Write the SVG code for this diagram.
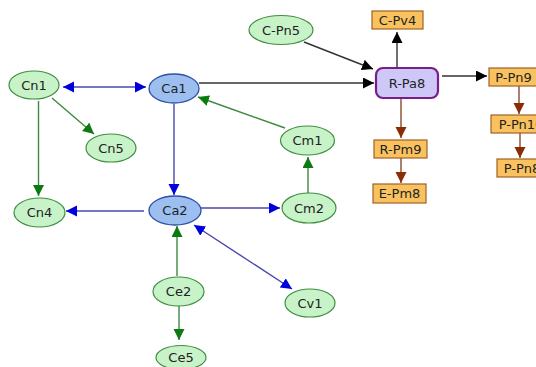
<svg xmlns="http://www.w3.org/2000/svg" width="536" height="367" viewBox="0 0 536 367">
  <style>
    .bg { fill: #ffffff; }
    .ell { fill: #c8f2c8; stroke: #3f8f3f; stroke-width: 1.2; }
    .ca { fill: #9cbff0; stroke: #2f4fa8; stroke-width: 1.3; }
    .box { fill: #f9c25e; stroke: #a0602a; stroke-width: 1.2; }
    .hub { fill: #cdc8f8; stroke: #7a1d86; stroke-width: 2.2; }
    text { font-family: "DejaVu Sans", "Liberation Sans", sans-serif; font-size: 13px; fill: #222222; text-anchor: middle; dominant-baseline: central; }
    .e { fill: none; stroke-width: 1.4; }
    .g { stroke: #3d8a3d; marker-end: url(#ag); }
    .b { stroke: #4848b0; marker-end: url(#ab); }
    .bb { stroke: #4848b0; marker-end: url(#ab); marker-start: url(#ab); }
    .k { stroke: #333333; marker-end: url(#ak); }
    .r { stroke: #8a4a2a; marker-end: url(#ar); }
  </style>
  <defs>
    <marker id="ag" markerUnits="userSpaceOnUse" markerWidth="12" markerHeight="12" refX="11" refY="5.5" orient="auto-start-reverse">
      <path d="M0,0 L11,5.5 L0,11 z" fill="#0b7a10"/>
    </marker>
    <marker id="ab" markerUnits="userSpaceOnUse" markerWidth="12" markerHeight="12" refX="11" refY="5.5" orient="auto-start-reverse">
      <path d="M0,0 L11,5.5 L0,11 z" fill="#0000dd"/>
    </marker>
    <marker id="ak" markerUnits="userSpaceOnUse" markerWidth="12" markerHeight="12" refX="11" refY="5.5" orient="auto-start-reverse">
      <path d="M0,0 L11,5.5 L0,11 z" fill="#000000"/>
    </marker>
    <marker id="ar" markerUnits="userSpaceOnUse" markerWidth="12" markerHeight="12" refX="11" refY="5.5" orient="auto-start-reverse">
      <path d="M0,0 L11,5.5 L0,11 z" fill="#8b2c06"/>
    </marker>
  </defs>

  <rect class="bg" x="0" y="0" width="536" height="367"/>

  <!-- connectors -->
  <g id="edges">
    <line class="e bb" x1="63" y1="87" x2="146" y2="87"/>
    <line class="e g" x1="52" y1="98" x2="94" y2="134"/>
    <line class="e g" x1="38.5" y1="101" x2="38.5" y2="196"/>
    <line class="e k" x1="199" y1="83" x2="374" y2="83"/>
    <line class="e g" x1="285" y1="128" x2="198" y2="97"/>
    <line class="e b" x1="174" y1="104" x2="174" y2="195"/>
    <line class="e b" x1="144" y1="211" x2="66" y2="211"/>
    <line class="e b" x1="201" y1="208" x2="280" y2="208"/>
    <line class="e g" x1="308" y1="193" x2="308" y2="157"/>
    <line class="e g" x1="177" y1="276" x2="177" y2="226"/>
    <line class="e g" x1="179" y1="306" x2="179" y2="340"/>
    <line class="e bb" x1="194" y1="225" x2="292" y2="289"/>
    <line class="e k" x1="304" y1="42" x2="373" y2="69"/>
    <line class="e k" x1="397" y1="68" x2="397" y2="32"/>
    <line class="e k" x1="442" y1="76" x2="487" y2="76"/>
    <line class="e r" x1="401" y1="98" x2="401" y2="138"/>
    <line class="e r" x1="401" y1="158" x2="401" y2="183"/>
    <line class="e r" x1="519" y1="86" x2="519" y2="114"/>
    <line class="e r" x1="520" y1="132" x2="520" y2="158"/>
  </g>

  <!-- nodes -->
  <g id="Cn1"><ellipse class="ell" cx="34" cy="85" rx="25" ry="14"/><text x="34" y="85">Cn1</text></g>
  <g id="Ca1"><ellipse class="ca" cx="174" cy="88.5" rx="25" ry="14.5"/><text x="174" y="88.5">Ca1</text></g>
  <g id="Cn5"><ellipse class="ell" cx="111" cy="148" rx="25" ry="14"/><text x="111" y="148">Cn5</text></g>
  <g id="C-Pn5"><ellipse class="ell" cx="281" cy="30" rx="32" ry="14.5"/><text x="281" y="30">C-Pn5</text></g>
  <g id="Cm1"><ellipse class="ell" cx="307.5" cy="140.5" rx="27" ry="14.5"/><text x="307.5" y="140.5">Cm1</text></g>
  <g id="Cn4"><ellipse class="ell" cx="39.5" cy="212.5" rx="25.5" ry="14.5"/><text x="39.5" y="212.5">Cn4</text></g>
  <g id="Ca2"><ellipse class="ca" cx="175" cy="210.5" rx="26" ry="14.5"/><text x="175" y="210.5">Ca2</text></g>
  <g id="Cm2"><ellipse class="ell" cx="309" cy="208" rx="27" ry="15"/><text x="309" y="208">Cm2</text></g>
  <g id="Cv1"><ellipse class="ell" cx="310" cy="303" rx="25" ry="14"/><text x="310" y="303">Cv1</text></g>
  <g id="Ce2"><ellipse class="ell" cx="178.5" cy="291.5" rx="25.5" ry="14.5"/><text x="178.5" y="291.5">Ce2</text></g>
  <g id="Ce5"><ellipse class="ell" cx="181" cy="357.5" rx="25" ry="12"/><text x="181" y="357.5">Ce5</text></g>

  <g id="R-Pa8"><rect class="hub" x="376" y="68" width="62" height="30" rx="7"/><text x="407" y="83">R-Pa8</text></g>
  <g id="C-Pv4"><rect class="box" x="372" y="11" width="51" height="18"/><text x="397.5" y="20">C-Pv4</text></g>
  <g id="R-Pm9"><rect class="box" x="374" y="140" width="53" height="18"/><text x="400.5" y="149">R-Pm9</text></g>
  <g id="E-Pm8"><rect class="box" x="373" y="184" width="53" height="19"/><text x="399.5" y="193.5">E-Pm8</text></g>
  <g id="P-Pn9"><rect class="box" x="489" y="68" width="49" height="18"/><text x="513.5" y="77">P-Pn9</text></g>
  <g id="P-Pn10"><rect class="box" x="491" y="115" width="58" height="18"/><text x="521" y="124">P-Pn10</text></g>
  <g id="P-Pn8"><rect class="box" x="497" y="159" width="50" height="18"/><text x="522" y="168">P-Pn8</text></g>
</svg>
